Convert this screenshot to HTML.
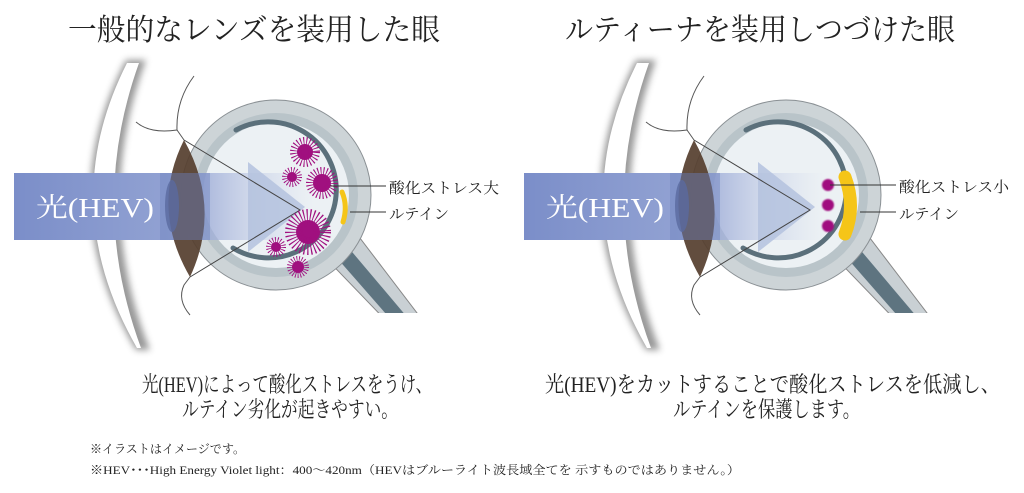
<!DOCTYPE html>
<html><head><meta charset="utf-8"><style>
html,body{margin:0;padding:0;background:#fff;}
svg{display:block;}
text{font-family:"Liberation Serif","Noto Serif CJK SC","Noto Sans CJK JP",serif;fill:#222;}
</style></head><body>
<svg width="1024" height="493" viewBox="0 0 1024 493" xmlns="http://www.w3.org/2000/svg">
<defs>
<linearGradient id="band" x1="0" x2="1" y1="0" y2="0">
<stop offset="0" stop-color="#7b8ec9"/><stop offset="0.55" stop-color="#93a3d3"/><stop offset="1" stop-color="#c8d1ea" stop-opacity="0"/>
</linearGradient>
<filter id="blur" x="-50%" y="-10%" width="200%" height="120%"><feGaussianBlur stdDeviation="3.5"/></filter>
<filter id="fz"><feGaussianBlur stdDeviation="0.8"/></filter>
<clipPath id="clipb"><rect x="0" y="0" width="512" height="313"/></clipPath>
<g id="base">
 <!-- contact lens -->
 <path d="M126,60 Q50,205 136,350 L150,350 Q92,205 146,60 Z" fill="#555" opacity="0.6" filter="url(#blur)"/>
 <path d="M127,63 Q55,205 137,348 L141,348 Q88,205 139,63 Z" fill="#fff"/>
 <!-- optic nerve -->
 <g clip-path="url(#clipb)">
  <path d="M318,250 L395,330 L430,330 L350,225 Z" fill="#c9d0d4" stroke="#888" stroke-width="1"/>
  <path d="M330,250 L400,330 L418,330 L342,240 Z" fill="#5e7480"/>
 </g>
 <!-- eye globe -->
 <circle cx="276" cy="195" r="95" fill="#cdd4d7" stroke="#8a9094" stroke-width="1"/>
 <circle cx="276" cy="195" r="82" fill="#b9c4c9"/>
 <circle cx="276" cy="195" r="73" fill="#ecf1f4"/>
 <path d="M236,130 A68,68 0 1 1 233,248" fill="none" stroke="#5b707b" stroke-width="5" stroke-linecap="round"/>
 <!-- eyelid lines -->
 <path d="M194,76 Q176,100 177,130 M136,122 Q150,134 177,130 L184,140" fill="none" stroke="#555" stroke-width="1"/>
 <path d="M190,277 L184,285 Q177,300 190,315" fill="none" stroke="#555" stroke-width="1"/>
 <!-- light band -->
 <rect x="14" y="173" width="300" height="67" fill="url(#band)"/>
 <!-- arrow triangle -->
 <polygon points="248,162 305,207 248,252" fill="#b4c2de" opacity="0.85"/>
 <!-- lens -->
 <path d="M184,140 Q150,208 190,277 Q222,208 184,140 Z" fill="#56402f" opacity="0.93"/>
 <rect x="160" y="173" width="50" height="67" fill="#6f82bf" opacity="0.45"/>
 <ellipse cx="172" cy="206" rx="7" ry="26" fill="#5a6aa0" opacity="0.8"/>
 <!-- converging lines -->
 <path d="M184,140 L300,210 L190,277" fill="none" stroke="#444" stroke-width="1"/>
 <!-- labels lines -->
 <line x1="350" y1="212" x2="386" y2="212" stroke="#333" stroke-width="1"/>
 <text x="36" y="217" font-size="27" style="fill:#fff" textLength="118" lengthAdjust="spacingAndGlyphs">光(HEV)</text>
 <text x="389" y="219" font-size="15" textLength="60" lengthAdjust="spacingAndGlyphs">ルテイン</text>
</g>
</defs>

<!-- titles -->
<text x="68" y="40" font-size="30" textLength="372" lengthAdjust="spacingAndGlyphs">一般的なレンズを装用した眼</text>
<text x="565" y="40" font-size="30" textLength="390" lengthAdjust="spacingAndGlyphs">ルティーナを装用しつづけた眼</text>

<!-- left panel -->
<use href="#base"/>
<g fill="#a0107f">
 <g transform="translate(305,152)"><circle r="8"/><circle r="9" fill="none" stroke="#a0107f" stroke-width="12" stroke-dasharray="0.8 1.6"/></g>
 <g transform="translate(292,177)"><circle r="5"/><circle r="6" fill="none" stroke="#a0107f" stroke-width="8" stroke-dasharray="0.7 1.4"/></g>
 <g transform="translate(322,183)"><circle r="9"/><circle r="10" fill="none" stroke="#a0107f" stroke-width="12" stroke-dasharray="0.8 1.6"/></g>
 <g transform="translate(308,232)"><circle r="12"/><circle r="14" fill="none" stroke="#a0107f" stroke-width="18" stroke-dasharray="0.9 1.8"/></g>
 <g transform="translate(276,247)"><circle r="5"/><circle r="6" fill="none" stroke="#a0107f" stroke-width="8" stroke-dasharray="0.7 1.4"/></g>
 <g transform="translate(298,267)"><circle r="6"/><circle r="7" fill="none" stroke="#a0107f" stroke-width="8" stroke-dasharray="0.7 1.4"/></g>
</g>
<path d="M342,192 Q348,206 343,222" fill="none" stroke="#f5c518" stroke-width="5" stroke-linecap="round"/>
<line x1="330" y1="186" x2="386" y2="186" stroke="#333" stroke-width="1"/>
<text x="389" y="193" font-size="15" textLength="110" lengthAdjust="spacingAndGlyphs">酸化ストレス大</text>

<!-- right panel -->
<g transform="translate(510,0)"><use href="#base"/></g>
<g fill="#a0107f" filter="url(#fz)">
 <circle cx="828" cy="185" r="6"/><circle cx="828" cy="205" r="6"/><circle cx="828" cy="226" r="6"/>
</g>
<path d="M845,177 Q856,206 845,234" fill="none" stroke="#f5c518" stroke-width="13" stroke-linecap="round"/>
<line x1="830" y1="185" x2="896" y2="185" stroke="#333" stroke-width="1"/>
<text x="899" y="192" font-size="15" textLength="110" lengthAdjust="spacingAndGlyphs">酸化ストレス小</text>

<!-- captions -->
<text x="142" y="392" font-size="22" textLength="290" lengthAdjust="spacingAndGlyphs">光(HEV)によって酸化ストレスをうけ、</text>
<text x="182" y="417" font-size="22" textLength="216" lengthAdjust="spacingAndGlyphs">ルテイン劣化が起きやすい。</text>
<text x="545" y="392" font-size="22" textLength="455" lengthAdjust="spacingAndGlyphs">光(HEV)をカットすることで酸化ストレスを低減し、</text>
<text x="673" y="417" font-size="22" textLength="187" lengthAdjust="spacingAndGlyphs">ルテインを保護します。</text>

<!-- footnotes -->
<text x="90" y="453" font-size="12" textLength="155" lengthAdjust="spacingAndGlyphs">※イラストはイメージです。</text>
<text x="90" y="474" font-size="12" textLength="650" lengthAdjust="spacingAndGlyphs">※HEV･･･High Energy Violet light：400～420nm（HEVはブルーライト波長域全てを 示すものではありません。）</text>
</svg>
</body></html>
